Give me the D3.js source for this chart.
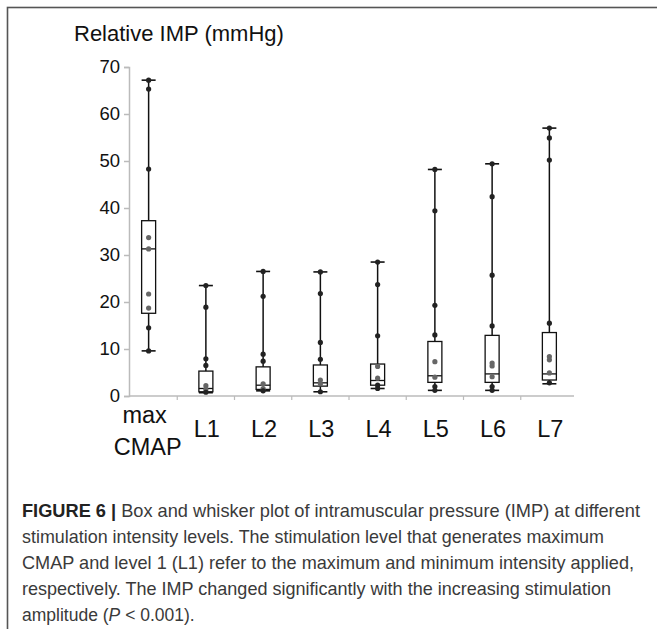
<!DOCTYPE html>
<html>
<head>
<meta charset="utf-8">
<script src="https://cdnjs.cloudflare.com/ajax/libs/d3/7.8.5/d3.min.js"></script>
<style>
  body { margin: 0; background: #fff; }
  svg { display: block; font-family: "Liberation Sans", Arial, sans-serif; }
</style>
</head>
<body>
<script>
// categories (stimulation levels)
var levels = ['max CMAP', 'L1', 'L2', 'L3', 'L4', 'L5', 'L6', 'L7'];

// box summary (mmHg)
var whiskerLow  = [9.6, 0.7, 1.1, 0.9, 1.6, 1.2, 1.2, 2.6];
var boxLow      = [17.6, 0.9, 1.4, 2.1, 2.3, 2.9, 2.9, 3.4];
var medians     = [31.3, 1.6, 2.3, 2.8, 3.3, 4.3, 4.7, 4.7];
var boxHigh     = [37.3, 5.3, 6.2, 6.6, 6.8, 11.6, 12.9, 13.5];
var whiskerHigh = [67.2, 23.5, 26.5, 26.4, 28.5, 48.2, 49.4, 57.0];

// individual subjects per level
var points = [
  [67.2, 65.3, 48.3, 33.7, 31.3, 21.7, 18.7, 14.5, 9.6],
  [23.5, 18.9, 7.9, 6.5, 2.2, 1.4, 0.8],
  [26.5, 21.2, 8.9, 7.4, 2.6, 1.6, 1.1],
  [26.4, 21.8, 11.4, 7.8, 3.4, 2.6, 0.9],
  [28.5, 23.7, 12.8, 6.3, 3.8, 2.3, 1.6],
  [48.2, 39.4, 19.3, 13.0, 7.3, 4.0, 2.0, 1.2],
  [49.4, 42.4, 25.7, 14.9, 7.0, 6.4, 4.1, 2.0, 1.2],
  [57.0, 54.9, 50.2, 15.5, 8.4, 7.7, 4.9, 2.8]
];

var yTicks = [0, 10, 20, 30, 40, 50, 60, 70];

var captionLines = [
  [{t: 'FIGURE 6 | ', b: true}, {t: 'Box and whisker plot of intramuscular pressure (IMP) at different'}],
  [{t: 'stimulation intensity levels. The stimulation level that generates maximum'}],
  [{t: 'CMAP and level 1 (L1) refer to the maximum and minimum intensity applied,'}],
  [{t: 'respectively. The IMP changed significantly with the increasing stimulation'}],
  [{t: 'amplitude ('}, {t: 'P', i: true}, {t: ' < 0.001).'}]
];
// printed width of each full caption line (px); the short last line is left natural
var captionWidths = [618, 582, 612, 589, null];

var W = 657, H = 629;

var svg = d3.select('body').append('svg')
  .attr('width', W)
  .attr('height', H);

// figure frame (runs off the right and bottom edge)
svg.append('rect')
  .attr('x', 7.5).attr('y', 7.5)
  .attr('width', 700).attr('height', 700)
  .attr('fill', 'none')
  .attr('stroke', '#555')
  .attr('stroke-width', 1.6);

var x = d3.scaleBand()
  .domain(levels)
  .range([120, 578]);

var y = d3.scaleLinear()
  .domain([0, 70])
  .range([396, 67]);

var axisX0 = 129;

// y axis
var yAxis = svg.append('g')
  .attr('transform', 'translate(' + axisX0 + ',0)')
  .call(d3.axisLeft(y).tickValues(yTicks).tickSize(5).tickPadding(4));
yAxis.select('.domain').attr('stroke', '#bbb').attr('stroke-width', 1.5);
yAxis.selectAll('.tick line').attr('stroke', '#bbb').attr('stroke-width', 1.5);
yAxis.selectAll('.tick text')
  .attr('font-size', 18.5)
  .attr('font-family', '"Liberation Sans", Arial, sans-serif')
  .attr('fill', '#111');

// x axis: baseline plus small ticks between the groups
var xAxis = svg.append('g');
xAxis.append('line')
  .attr('x1', axisX0).attr('x2', 574)
  .attr('y1', y(0)).attr('y2', y(0))
  .attr('stroke', '#bbb').attr('stroke-width', 1.5);
xAxis.selectAll('.xtick')
  .data(levels.slice(1))
  .enter().append('line')
  .attr('class', 'xtick')
  .attr('x1', function(d) { return x(d); })
  .attr('x2', function(d) { return x(d); })
  .attr('y1', y(0)).attr('y2', y(0) + 4)
  .attr('stroke', '#bbb').attr('stroke-width', 1.2);

// category labels
levels.forEach(function(lv) {
  var cx = x(lv) + x.bandwidth() / 2;
  var words = lv.split(' ');
  var t = svg.append('text')
    .attr('text-anchor', 'middle')
    .attr('font-size', 23.5)
    .attr('fill', '#111');
  if (words.length == 1) {
    t.attr('x', cx + 1).attr('y', 437).text(lv);
  } else {
    t.append('tspan').attr('x', cx - 4).attr('y', 423).text(words[0]);
    t.append('tspan').attr('x', cx - 1).attr('y', 455).text(words[1]);
  }
});

// title
svg.append('text')
  .attr('x', 74)
  .attr('y', 41)
  .attr('font-size', 22)
  .attr('fill', '#111')
  .text('Relative IMP (mmHg)');

// boxes
var boxW = 14;
var groups = svg.selectAll('.level')
  .data(levels)
  .enter().append('g')
  .attr('class', 'level')
  .attr('transform', function(d) {
    return 'translate(' + (x(d) + x.bandwidth() / 2) + ',0)';
  });

groups.append('line')
  .attr('x1', 0).attr('x2', 0)
  .attr('y1', function(d, i) { return y(whiskerLow[i]); })
  .attr('y2', function(d, i) { return y(whiskerHigh[i]); })
  .attr('stroke', '#111').attr('stroke-width', 1.5);

groups.append('rect')
  .attr('x', -boxW / 2)
  .attr('width', boxW)
  .attr('y', function(d, i) { return y(boxHigh[i]); })
  .attr('height', function(d, i) { return y(boxLow[i]) - y(boxHigh[i]); })
  .attr('fill', '#fff')
  .attr('stroke', '#111').attr('stroke-width', 1.3);

groups.append('line')
  .attr('x1', -boxW / 2).attr('x2', boxW / 2)
  .attr('y1', function(d, i) { return y(medians[i]); })
  .attr('y2', function(d, i) { return y(medians[i]); })
  .attr('stroke', '#111').attr('stroke-width', 1.3);

// whisker caps
[whiskerLow, whiskerHigh].forEach(function(arr) {
  groups.append('line')
    .attr('x1', -boxW / 2).attr('x2', boxW / 2)
    .attr('y1', function(d, i) { return y(arr[i]); })
    .attr('y2', function(d, i) { return y(arr[i]); })
    .attr('stroke', '#111').attr('stroke-width', 1.6);
});

// subject dots: grey inside the box, dark on the whisker
groups.each(function(d, i) {
  d3.select(this).selectAll('circle')
    .data(points[i])
    .enter().append('circle')
    .attr('cx', 0)
    .attr('cy', function(v) { return y(v); })
    .attr('r', 2.6)
    .attr('fill', function(v) {
      return (v > boxLow[i] && v < boxHigh[i]) ? '#666' : '#222';
    });
});

// caption
var cap = svg.append('g').attr('fill', '#3a3a3a').attr('font-size', 18.5);
captionLines.forEach(function(line, k) {
  var t = cap.append('text')
    .attr('x', 22)
    .attr('y', 517 + k * 26);
  if (captionWidths[k]) {
    t.attr('textLength', captionWidths[k])
      .attr('lengthAdjust', 'spacingAndGlyphs');
  } else {
    t.attr('font-size', 17.5);
  }
  line.forEach(function(part) {
    t.append('tspan')
      .attr('font-weight', part.b ? 'bold' : null)
      .attr('font-style', part.i ? 'italic' : null)
      .attr('fill', part.b ? '#222' : null)
      .text(part.t);
  });
});
</script>
</body>
</html>
